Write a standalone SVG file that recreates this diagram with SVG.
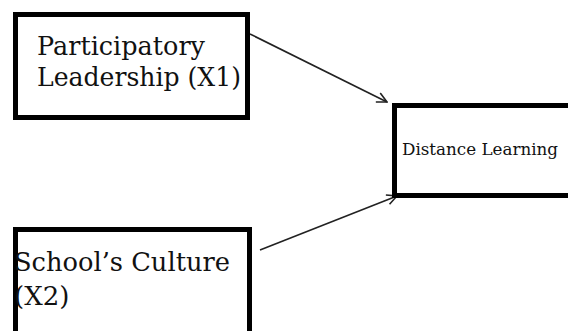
<svg xmlns="http://www.w3.org/2000/svg" width="568" height="331" viewBox="0 0 568 331">
<defs>
<style>
.box{fill:#fff;stroke:#000;stroke-width:5}
.t{font-family:"DejaVu Serif","Liberation Serif",serif;fill:#111}
.big{font-size:26px}
.small{font-size:17px}
.conn{stroke:#222;stroke-width:1.6;fill:none}
</style>
<marker id="ah" viewBox="0 0 12 12" refX="11" refY="6" markerWidth="12" markerHeight="12" markerUnits="userSpaceOnUse" orient="auto">
<polyline points="1,1 11,6 1,11" fill="none" stroke="#222" stroke-width="1.6"/>
</marker>
</defs>
<rect width="568" height="331" fill="#fff"/>
<g id="connectors">
<line class="conn" x1="250" y1="34" x2="387" y2="102" marker-end="url(#ah)"/>
<line class="conn" x1="260" y1="250" x2="397" y2="196" marker-end="url(#ah)"/>
</g>
<g id="node-x1">
<rect class="box" x="15.5" y="14.5" width="232" height="103"/>
<text class="t big" x="37" y="55" textLength="168" lengthAdjust="spacingAndGlyphs">Participatory</text>
<text class="t big" x="37" y="86" textLength="204" lengthAdjust="spacingAndGlyphs">Leadership (X1)</text>
</g>
<g id="node-y">
<rect class="box" x="394.5" y="105.5" width="260" height="90"/>
<text class="t small" x="402" y="155" textLength="156" lengthAdjust="spacingAndGlyphs">Distance Learning</text>
</g>
<g id="node-x2">
<rect class="box" x="15.5" y="229.5" width="234" height="130"/>
<text class="t big" x="14" y="271" textLength="216" lengthAdjust="spacingAndGlyphs">School’s Culture</text>
<text class="t big" x="14" y="305">(X2)</text>
</g>
</svg>
